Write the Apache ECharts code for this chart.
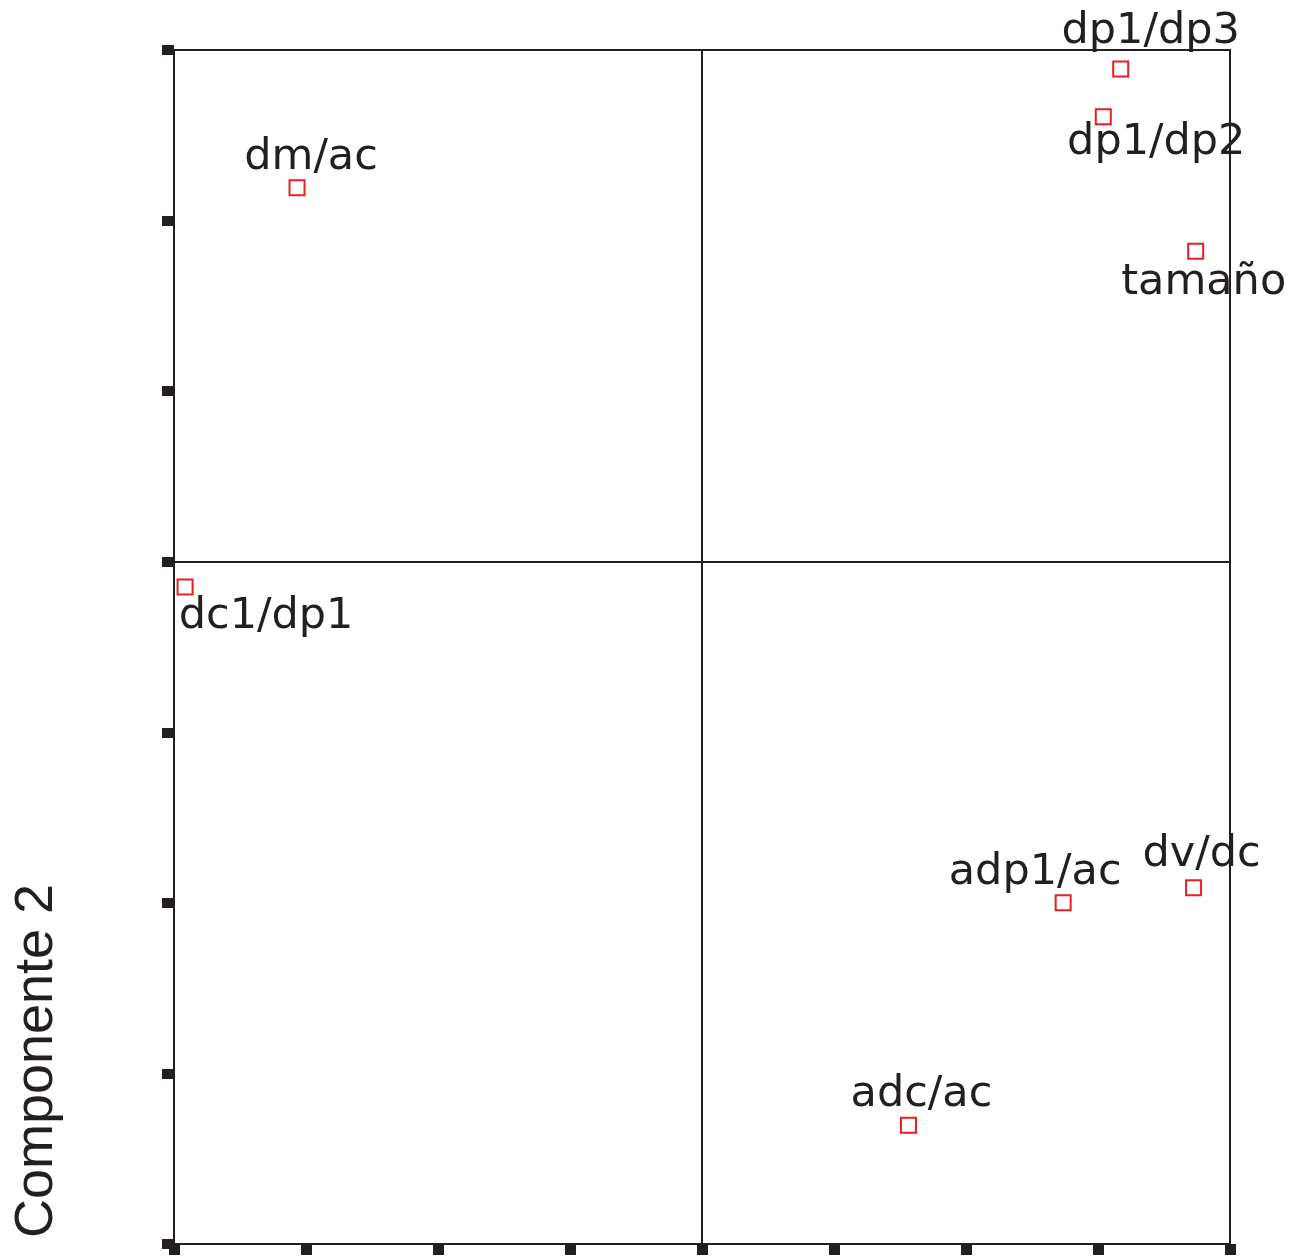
<!DOCTYPE html>
<html>
<head>
<meta charset="utf-8">
<script src="https://cdn.jsdelivr.net/npm/echarts@6/dist/echarts.min.js"></script>
<style>
html,body{margin:0;padding:0;background:#fff;}
#chart{width:1301px;height:1257px;}
</style>
</head>
<body>
<div id="chart"></div>
<script>
// Data (component loadings)
const names = ["dm/ac", "dp1/dp3", "dp1/dp2", "tamaño", "dc1/dp1", "adp1/ac", "dv/dc", "adc/ac"];
const comp1 = [-0.767, 0.793, 0.760, 0.935, -0.979, 0.684, 0.931, 0.391];
const comp2 = [0.548, 0.722, 0.652, 0.455, -0.037, -0.500, -0.478, -0.826];
const yAxisTitle = "Componente 2";

// Label placement (pixel offsets from marker centre)
const labelOffsets = [[14, -30], [30, -37], [53, 26], [8, 32], [81, 30], [-28, -30], [8, -33], [13, -30]];

const ink = "#231f20";
const red = "#ed1c24";

const points = names.map((n, i) => ({
  name: n,
  value: [comp1[i], comp2[i]],
  label: { offset: labelOffsets[i] }
}));

const chart = echarts.init(document.getElementById('chart'), null, { renderer: 'canvas' });
chart.setOption({
  backgroundColor: '#fff',
  animation: false,
  grid: {
    left: 174, right: 71, top: 50, bottom: 13,
    show: true, borderColor: ink, borderWidth: 2, backgroundColor: 'transparent'
  },
  xAxis: {
    type: 'value', min: -1, max: 1, interval: 0.25,
    axisLine: { show: true, onZero: false, lineStyle: { color: ink, width: 2 } },
    axisTick: { show: true, length: 11, lineStyle: { color: ink, width: 11 } },
    axisLabel: { show: false },
    splitLine: { show: false }
  },
  yAxis: {
    type: 'value', min: -1, max: 0.75, interval: 0.25,
    axisLine: { show: true, onZero: false, lineStyle: { color: ink, width: 2 } },
    axisTick: { show: true, length: 12, lineStyle: { color: ink, width: 10 } },
    axisLabel: { show: false },
    splitLine: { show: false }
  },
  graphic: [{
    type: 'text',
    x: 37, y: 1061,
    rotation: Math.PI / 2,
    style: {
      text: yAxisTitle,
      fill: ink,
      font: '54px "Liberation Sans", Arial, sans-serif',
      align: 'center',
      verticalAlign: 'middle'
    }
  }],
  series: [{
    type: 'scatter',
    data: points,
    symbol: 'rect',
    symbolSize: 15,
    itemStyle: { color: '#fff', borderColor: red, borderWidth: 2, opacity: 1 },
    label: {
      show: true,
      position: 'inside',
      formatter: p => p.name,
      color: ink,
      opacity: 1,
      fontFamily: '"DejaVu Sans", sans-serif',
      fontSize: 43
    },
    emphasis: { disabled: true },
    markLine: {
      silent: true,
      symbol: 'none',
      label: { show: false },
      lineStyle: { color: ink, width: 2, type: 'solid', opacity: 1 },
      data: [{ xAxis: 0 }, { yAxis: 0 }]
    },
    z: 3
  }]
});
</script>
</body>
</html>
